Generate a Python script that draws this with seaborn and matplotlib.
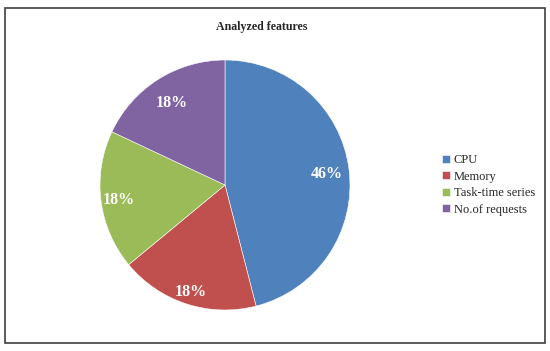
import matplotlib
matplotlib.use("Agg")
import numpy as np
import matplotlib.pyplot as plt
from matplotlib.patches import Rectangle
import seaborn as sns

categories = ["CPU", "Memory", "Task-time series", "No.of requests"]
shares = [46, 18, 18, 18]
colors = ["#4F81BD", "#C0504D", "#9BBB59", "#8064A2"]
title = "Analyzed features"
# radial placement of each percentage label (fraction of radius)
label_dist = [0.82, 0.88, 0.86, 0.80]

sns.set_theme(style="white")
plt.rcParams['font.family'] = ['Liberation Serif', 'DejaVu Serif']

fig = plt.figure(figsize=(5.5, 3.51), dpi=100)
fig.patch.set_facecolor("white")

# outer chart border
fig.patches.append(Rectangle((5 / 550, 1 - 343 / 351), 540 / 550, 335 / 351,
                             transform=fig.transFigure, fill=False,
                             edgecolor="#404040", linewidth=1.2))

ax = fig.add_axes([100 / 550, 1 - 310 / 351, 250 / 550, 250 / 351])
wedges, texts, autotexts = ax.pie(
    shares, colors=colors, startangle=90, counterclock=False,
    autopct=lambda p: f"{p:.0f}%", radius=1,
    wedgeprops=dict(edgecolor="white", linewidth=0.4),
    textprops=dict(color="white", fontsize=11.5, fontweight="bold"))
for w, t, d in zip(wedges, autotexts, label_dist):
    mid = np.deg2rad((w.theta1 + w.theta2) / 2)
    t.set_position((d * np.cos(mid), d * np.sin(mid)))
    t.set_va("center_baseline")
ax.set_xlim(-1, 1)
ax.set_ylim(-1, 1)
ax.set_aspect("auto")
ax.axis("off")

fig.text(262 / 550, 1 - 27 / 351, title, ha="center", va="center",
         fontsize=8.6, fontweight="bold")

fig.legend(wedges, categories, loc="center left",
           bbox_to_anchor=(431 / 550, 1 - 185 / 351), frameon=False,
           fontsize=9, handlelength=0.6, handleheight=0.6,
           handletextpad=0.3, labelspacing=0.35)

fig.savefig("out.png", dpi=100)
